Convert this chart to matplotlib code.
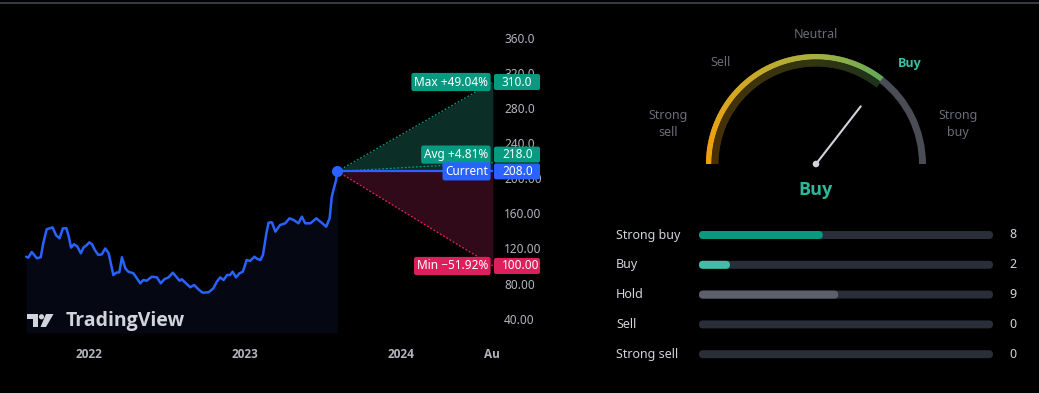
import numpy as np
import pandas as pd
import matplotlib.pyplot as plt
import matplotlib.dates as mdates
from matplotlib.colors import LinearSegmentedColormap, to_rgb
from matplotlib.patches import Wedge, Circle, Polygon, FancyBboxPatch

plt.rcParams['font.family'] = ['Noto Sans', 'DejaVu Sans']
BOLD = ['Open Sans', 'DejaVu Sans']

# --- Price history (weekly-ish closes) ---
dates = [
    '2021-08-07', '2021-08-12', '2021-08-20', '2021-09-01', '2021-09-10', '2021-09-16',
    '2021-09-24', '2021-10-08', '2021-10-16', '2021-10-24', '2021-11-01', '2021-11-09',
    '2021-11-14', '2021-11-20', '2021-11-27', '2021-12-05', '2021-12-13', '2021-12-19',
    '2021-12-27', '2022-01-02', '2022-01-08', '2022-01-15', '2022-01-23', '2022-01-31',
    '2022-02-08', '2022-02-16', '2022-02-27', '2022-03-06', '2022-03-13', '2022-03-19',
    '2022-03-27', '2022-04-03', '2022-04-15', '2022-04-23', '2022-05-01', '2022-05-08',
    '2022-05-16', '2022-05-28', '2022-06-09', '2022-06-18', '2022-06-26', '2022-07-06',
    '2022-07-16', '2022-07-24', '2022-08-01', '2022-08-06', '2022-08-16', '2022-08-26',
    '2022-09-04', '2022-09-14', '2022-09-24', '2022-10-08', '2022-10-19', '2022-10-27',
    '2022-11-04', '2022-11-12', '2022-11-20', '2022-11-27', '2022-12-03', '2022-12-11',
    '2022-12-19', '2022-12-27', '2023-01-05', '2023-01-13', '2023-01-23', '2023-01-30',
    '2023-02-06', '2023-02-12', '2023-02-20', '2023-02-25', '2023-03-05', '2023-03-13',
    '2023-03-24', '2023-04-05', '2023-04-15', '2023-04-25', '2023-05-06', '2023-05-14',
    '2023-05-22', '2023-06-03', '2023-06-17', '2023-06-28', '2023-07-10', '2023-07-18',
    '2023-07-23', '2023-07-27', '2023-08-02', '2023-08-05',
]
prices = [
    110.6, 109.5, 116.0, 108.8, 110.0, 126.0,
    142.0, 144.0, 135.0, 131.6, 143.0, 143.0,
    135.0, 121.0, 124.8, 122.0, 114.5, 121.0,
    124.0, 127.0, 124.8, 118.0, 112.6, 113.3,
    120.0, 114.5, 89.7, 92.4, 92.8, 110.0,
    97.4, 93.5, 91.6, 86.0, 80.2, 84.0,
    83.2, 87.8, 87.0, 80.2, 84.8, 87.0,
    92.4, 87.8, 83.2, 84.8, 80.2, 75.7,
    78.3, 73.4, 69.5, 70.0, 74.5, 82.0,
    87.0, 84.0, 89.7, 89.7, 93.5, 87.0,
    91.6, 93.5, 106.8, 105.7, 110.6, 108.0,
    106.8, 112.6, 137.3, 149.4, 149.9, 139.2,
    146.8, 148.7, 154.4, 152.5, 148.7, 156.3,
    148.7, 148.7, 154.4, 149.9, 144.9, 154.4,
    179.0, 186.8, 198.0, 208.0,
]

# --- 12 month price targets ---
forecast_end = '2024-08-03'
price_current = 208.0
price_max = 310.0
price_avg = 218.0
price_min = 100.0

price_ticks = [360, 320, 280, 240, 200, 160, 120, 80, 40]
price_tick_labels = ['360.0', '320.0', '280.0', '240.0', '200.00', '160.00', '120.00', '80.00', '40.00']
time_ticks = ['2022-01-01', '2023-01-01', '2024-01-01', '2024-08-01']
time_tick_labels = ['2022', '2023', '2024', 'Au']

# --- Analyst ratings ---
rating_labels = ['Strong buy', 'Buy', 'Hold', 'Sell', 'Strong sell']
rating_counts = [8, 2, 9, 0, 0]
rating_colors = ['#089981', '#42bda8', '#5d606b', '#f7525f', '#f23645']
gauge_score = 0.42   # -1 = strong sell, +1 = strong buy
gauge_zones = ['Strong\nsell', 'Sell', 'Neutral', 'Buy', 'Strong\nbuy']

W, H = 1039, 393
BG = '#000000'
fig = plt.figure(figsize=(W / 100, H / 100), dpi=100, facecolor=BG)

# ---------------- price chart ----------------
ax = fig.add_axes([0, (H - 333) / H, 493 / W, 323 / H], zorder=1)
ax.set_facecolor('none')
d = pd.to_datetime(dates)
x0 = mdates.date2num(pd.Timestamp('2022-01-01'))
ax.set_xlim(x0 - 89 * 365 / 156, x0 + (493 - 89) * 365 / 156)
ax.set_ylim(23.5, 392.2)

ybot = ax.get_ylim()[0]
ax.fill_between(d, prices, ybot, color='#050813', lw=0)
ax.plot(d, prices, color='#2962ff', lw=1.8, solid_capstyle='round', zorder=4)

xs = [d[-1], pd.Timestamp(forecast_end)]
ax.fill_between(xs, [price_current, price_max], [price_current, price_current], color='#0b2e27', lw=0)
ax.fill_between(xs, [price_current, price_current], [price_current, price_min], color='#300a19', lw=0)
ax.plot(xs, [price_current, price_max], color='#089981', lw=0.9, ls=(0, (1.5, 1.5)))
ax.plot(xs, [price_current, price_avg], color='#089981', lw=0.9, ls=(0, (1.5, 1.5)))
ax.plot(xs, [price_current, price_min], color='#e91e63', lw=0.9, ls=(0, (1.5, 1.5)))
ax.plot(xs, [price_current, price_current], color='#2962ff', lw=1.6, zorder=5)
ax.plot([d[-1]], [prices[-1]], 'o', color='#2962ff', ms=7, zorder=6)

for s in ax.spines.values():
    s.set_visible(False)
ax.yaxis.tick_right()
ax.set_yticks(price_ticks)
ax.set_yticklabels(price_tick_labels)
ax.set_xticks(pd.to_datetime(time_ticks))
ax.set_xticklabels(time_tick_labels)
ax.tick_params(axis='y', length=0, pad=8, labelsize=8.5, labelcolor='#b2b5be')
ax.tick_params(axis='x', length=0, pad=11, labelsize=8.5, labelcolor='#b2b5be')
for t in ax.get_xticklabels():
    t.set_fontweight('bold')
    t.set_family(BOLD)

# ---------------- overlay in pixel coordinates ----------------
ov = fig.add_axes([0, 0, 1, 1], zorder=2)
ov.set_xlim(0, W)
ov.set_ylim(H, 0)
ov.axis('off')

ov.plot([0, W], [3, 3], color='#434651', lw=1.2)


def ypix(v):
    return H - ax.transData.transform((0, v))[1]


targets = [
    ('Max {:+.2f}%'.format((price_max / price_current - 1) * 100), price_max, '#089981', '310.0', 0),
    ('Avg {:+.2f}%'.format((price_avg / price_current - 1) * 100), price_avg, '#089981', '218.0', -8),
    ('Current', price_current, '#2962ff', '208.0', 0),
    ('Min {:+.2f}%'.format((price_min / price_current - 1) * 100).replace('-', '\u2212'), price_min, '#dd1f5e', '100.00', 0),
]
for lab, val, col, vtxt, off in targets:
    yc = ypix(val) + off
    ov.text(488, yc, lab, ha='right', va='center', color='white', fontsize=8.5,
            bbox=dict(boxstyle='round,pad=0.22,rounding_size=0.2', fc=col, ec='none'))
    ov.add_patch(FancyBboxPatch((494, yc - 8), 46, 16, boxstyle='round,pad=0,rounding_size=2',
                                fc=col, ec='none'))
    ov.text(502, yc, vtxt, ha='left', va='center', color='white', fontsize=8.5)

# TradingView watermark
ov.add_patch(Polygon([(27, 314), (38, 314), (38, 327), (33, 327), (33, 319), (27, 319)],
                     closed=True, fc='#d1d4dc', ec='none'))
ov.add_patch(Circle((41.5, 316.8), 2.6, fc='#d1d4dc', ec='none'))
ov.add_patch(Polygon([(46, 314), (53.5, 314), (46, 327), (40.5, 327)], closed=True, fc='#d1d4dc', ec='none'))
ov.text(66, 321, 'TradingView', ha='left', va='center', color='#d1d4dc', fontsize=14,
        family=BOLD, fontweight='bold')

# ---------------- gauge ----------------
cx, cy, R = 816, 164, 110
needle_a = 90 - gauge_score * 90
cmap = LinearSegmentedColormap.from_list('g', [(0, '#f59e0b'), (0.25, '#d2a822'), (0.5, '#a6b040'),
                                              (0.72, '#5fa85c'), (1, '#089981')])
n = 160
edges = np.linspace(180, needle_a, n + 1)
for a1, a2 in zip(edges[:-1], edges[1:]):
    c = np.array(to_rgb(cmap((180 - (a1 + a2) / 2) / 180)))
    ov.add_patch(Wedge((cx, cy), R, 360 - a1, 360 - a2 + 0.6, width=5.5, fc=c, ec='none'))
    ov.add_patch(Wedge((cx, cy), R - 5.5, 360 - a1, 360 - a2 + 0.6, width=7, fc=c * 0.3, ec='none'))
ov.add_patch(Wedge((cx, cy), R, 360 - needle_a, 360, width=7, fc='#4a4c56', ec='none'))

na = np.deg2rad(needle_a)
ov.plot([cx, cx + 73 * np.cos(na)], [cy, cy - 73 * np.sin(na)], color='#d1d4dc', lw=1.5,
        solid_capstyle='round')
ov.add_patch(Circle((cx, cy), 3.3, fc='#d1d4dc', ec='none'))

active = min(int((180 - needle_a) // 36), 4)
zone_pos = [(668, 124), (721, 63), (816, 35), (910, 63), (958, 124)]
for i, (lab, (zx, zy)) in enumerate(zip(gauge_zones, zone_pos)):
    on = i == active
    ov.text(zx, zy, lab, ha='center', va='center', fontsize=9, linespacing=1.35,
            color='#3cbfa4' if on else '#6a6d78', fontweight='bold' if on else 'normal',
            family=BOLD if on else None)
ov.text(cx, 190, gauge_zones[active].replace('\n', ' '), ha='center', va='center', fontsize=13,
        fontweight='bold', color='#2db79b', family=BOLD)

# ---------------- rating bars ----------------
total = sum(rating_counts)
bx0, bx1 = 699, 993
for i, (lab, cnt, col) in enumerate(zip(rating_labels, rating_counts, rating_colors)):
    yc = 235 + i * 29.8
    ov.text(616, yc, lab, ha='left', va='center', fontsize=9, color='#d1d4dc')
    ov.add_patch(FancyBboxPatch((bx0, yc - 4), bx1 - bx0, 8, boxstyle='round,pad=0,rounding_size=4',
                                fc='#2a2e39', ec='none'))
    if cnt > 0:
        ov.add_patch(FancyBboxPatch((bx0, yc - 4), (bx1 - bx0) * cnt / total, 8,
                                    boxstyle='round,pad=0,rounding_size=4', fc=col, ec='none'))
    ov.text(1013, yc, str(cnt), ha='center', va='center', fontsize=9, color='#d1d4dc')

fig.savefig('out.png', dpi=100, facecolor=BG)
